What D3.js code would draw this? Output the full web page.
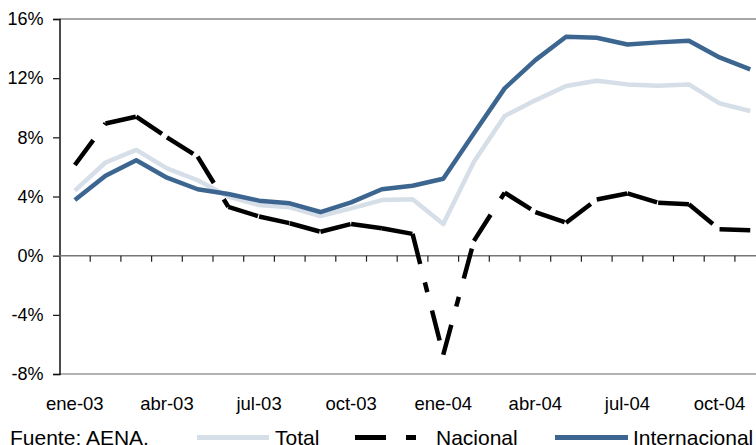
<!DOCTYPE html>
<html>
<head>
<meta charset="utf-8">
<script src="https://cdn.jsdelivr.net/npm/d3@7"></script>
<style>
  html, body { margin: 0; padding: 0; background: #fff; overflow: hidden; }
  svg { display: block; font-family: "Liberation Sans", Arial, Helvetica, sans-serif; }
</style>
</head>
<body>
<script>
// ---- data ----
const months = ["ene-03","feb-03","mar-03","abr-03","may-03","jun-03","jul-03","ago-03","sep-03","oct-03","nov-03","dic-03",
                "ene-04","feb-04","mar-04","abr-04","may-04","jun-04","jul-04","ago-04","sep-04","oct-04","nov-04","dic-04"];
const tickLabels = ["ene-03","abr-03","jul-03","oct-03","ene-04","abr-04","jul-04","oct-04"];
const yTicks = [-8, -4, 0, 4, 8, 12, 16];
const total = [4.4, 6.3, 7.15, 5.9, 5.1, 4.0, 3.42, 3.27, 2.68, 3.2, 3.76, 3.81, 2.14, 6.35, 9.44, 10.5, 11.47, 11.82, 11.58, 11.49, 11.58, 10.3, 9.78];
const nacional = [6.13, 8.94, 9.4, 8.0, 6.7, 3.3, 2.65, 2.19, 1.62, 2.14, 1.85, 1.47, -6.7, 1.0, 4.26, 2.95, 2.23, 3.8, 4.21, 3.58, 3.47, 1.78, 1.71];
const internacional = [3.76, 5.4, 6.45, 5.27, 4.49, 4.17, 3.72, 3.54, 2.95, 3.6, 4.49, 4.73, 5.2, 8.27, 11.31, 13.22, 14.8, 14.73, 14.28, 14.42, 14.53, 13.4, 12.6];
const seriesNames = ["Total", "Nacional", "Internacional"];
const colors = { Total: "#d6dee8", Nacional: "#000000", Internacional: "#3c6690" };

const W = 756, H = 445;
const svg = d3.select("body").append("svg").attr("width", W).attr("height", H);

const x = d3.scaleBand().domain(months).range([59.5, 796.3]).paddingInner(0).paddingOuter(0);
const y = d3.scaleLinear().domain([-8, 16]).range([374, 19]);
const cx = m => x(m) + x.bandwidth() / 2;

// frame: top and bottom borders
svg.append("line").attr("x1", 59.5).attr("x2", W).attr("y1", y(16)).attr("y2", y(16))
  .attr("stroke", "#8a8a8a").attr("stroke-width", 1.5);
svg.append("line").attr("x1", 59.5).attr("x2", W).attr("y1", y(-8)).attr("y2", y(-8))
  .attr("stroke", "#9a9a9a").attr("stroke-width", 1.5);

// y axis
const yAxis = d3.axisLeft(y).tickValues(yTicks).tickSize(6.5).tickFormat(d => d + "%");
const gy = svg.append("g").attr("transform", "translate(59.5,0)").call(yAxis);
gy.select(".domain").attr("stroke", "#111").attr("stroke-width", 1.5);
gy.selectAll(".tick line").attr("stroke", "#111").attr("stroke-width", 1.2);
gy.selectAll(".tick text").attr("font-size", 18).attr("fill", "#000")
  .attr("font-family", "Liberation Sans, Arial, sans-serif").attr("x", -16);

// zero line with ticks at band boundaries
svg.append("line").attr("x1", 59.5).attr("x2", W).attr("y1", y(0)).attr("y2", y(0))
  .attr("stroke", "#777").attr("stroke-width", 1.5);
svg.selectAll(".xtick").data(months.slice(1)).enter().append("line")
  .attr("x1", d => x(d)).attr("x2", d => x(d))
  .attr("y1", y(0)).attr("y2", y(0) + 6)
  .attr("stroke", "#222").attr("stroke-width", 1.2);

// x tick labels
svg.selectAll(".xlab").data(tickLabels).enter().append("text")
  .attr("x", d => cx(d)).attr("y", 410)
  .attr("text-anchor", "middle").attr("font-size", 18.5).attr("fill", "#000")
  .text(d => d);

// series lines
const line = d3.line().x((d, i) => cx(months[i])).y(d => y(d));
svg.append("path").datum(total).attr("d", line)
  .attr("fill", "none").attr("stroke", colors.Total).attr("stroke-width", 4.5).attr("stroke-linejoin", "round");

// Nacional: dash pattern restarts on every segment
const segs = d3.pairs(nacional.map((v, i) => [cx(months[i]), y(v)]));
svg.selectAll(".nac").data(segs).enter().append("line")
  .attr("x1", d => d[0][0]).attr("y1", d => d[0][1])
  .attr("x2", d => d[1][0]).attr("y2", d => d[1][1])
  .attr("stroke", colors.Nacional).attr("stroke-width", 4.5)
  .attr("stroke-dasharray", "31,19,10,19");

svg.append("path").datum(internacional).attr("d", line)
  .attr("fill", "none").attr("stroke", colors.Internacional).attr("stroke-width", 4.5).attr("stroke-linejoin", "round");

// legend
const legY = 437.5, txtY = 445;
svg.append("text").attr("x", 10).attr("y", txtY).attr("font-size", 21).attr("fill", "#000").text("Fuente: AENA.");
const leg = [
  { name: "Total", x1: 197, x2: 269, tx: 275, dash: null },
  { name: "Nacional", x1: 355, x2: 416, tx: 436, dash: "31,20,10,20" },
  { name: "Internacional", x1: 555, x2: 628, tx: 633, dash: null }
];
leg.forEach(l => {
  svg.append("line").attr("x1", l.x1).attr("x2", l.x2).attr("y1", legY).attr("y2", legY)
    .attr("stroke", colors[l.name]).attr("stroke-width", 5)
    .attr("stroke-dasharray", l.dash);
  svg.append("text").attr("x", l.tx).attr("y", txtY).attr("font-size", 21).attr("fill", "#000").text(l.name);
});
</script>
</body>
</html>
